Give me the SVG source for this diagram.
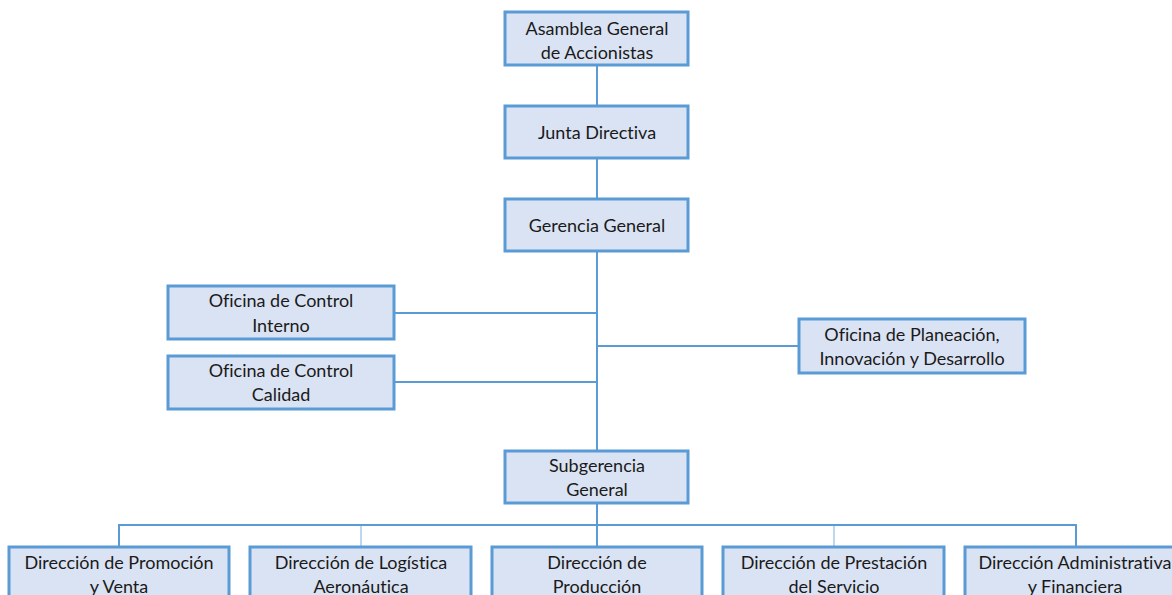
<svg xmlns="http://www.w3.org/2000/svg" width="1172" height="595" viewBox="0 0 1172 595">
<style>
.box{fill:#DAE3F3;stroke:#5B9BD5;stroke-width:3}
.ln{stroke:#5B9BD5;stroke-width:2;fill:none}
.lt{stroke:#BDD7EE;stroke-width:2;fill:none}
text{font-family:Lato,"Open Sans",sans-serif;font-size:18px;fill:#1a1a1a;text-anchor:middle;font-variant-ligatures:none;font-feature-settings:"liga" 0,"dlig" 0}
</style>
<rect width="1172" height="595" fill="#fff"/>
<g id="connectors">
<line class="ln" x1="597" y1="65" x2="597" y2="106"/>
<line class="ln" x1="597" y1="158" x2="597" y2="199"/>
<line class="ln" x1="597" y1="251" x2="597" y2="451"/>
<line class="ln" x1="394" y1="313" x2="597" y2="313"/>
<line class="ln" x1="394" y1="382" x2="597" y2="382"/>
<line class="ln" x1="597" y1="346" x2="799" y2="346"/>
<line class="ln" x1="597" y1="503" x2="597" y2="547"/>
<polyline class="ln" points="119,547 119,525 1076,525 1076,547"/>
<line class="lt" x1="361" y1="526" x2="361" y2="546"/>
<line class="lt" x1="834" y1="526" x2="834" y2="546"/>
</g>
<g id="asamblea"><rect class="box" x="505" y="12" width="183" height="53"/><text x="597" y="35">Asamblea General</text><text x="597" y="59">de Accionistas</text></g>
<g id="junta"><rect class="box" x="505" y="106" width="183" height="52"/><text x="597" y="139">Junta Directiva</text></g>
<g id="gerencia"><rect class="box" x="505" y="199" width="183" height="52"/><text x="597" y="232">Gerencia General</text></g>
<g id="control-interno"><rect class="box" x="168" y="286" width="226" height="53"/><text x="281" y="307">Oficina de Control</text><text x="281" y="332">Interno</text></g>
<g id="control-calidad"><rect class="box" x="168" y="356" width="226" height="53"/><text x="281" y="377">Oficina de Control</text><text x="281" y="401">Calidad</text></g>
<g id="planeacion"><rect class="box" x="799" y="319" width="226" height="54"/><text x="912" y="341">Oficina de Planeación,</text><text x="912" y="365">Innovación y Desarrollo</text></g>
<g id="subgerencia"><rect class="box" x="505" y="451" width="183" height="52"/><text x="597" y="472">Subgerencia</text><text x="597" y="496">General</text></g>
<g id="promocion"><rect class="box" x="9" y="547" width="220" height="60"/><text x="119" y="569">Dirección de Promoción</text><text x="119" y="593">y Venta</text></g>
<g id="logistica"><rect class="box" x="250" y="547" width="221" height="60"/><text x="361" y="569">Dirección de Logística</text><text x="361" y="593">Aeronáutica</text></g>
<g id="produccion"><rect class="box" x="492" y="547" width="210" height="60"/><text x="597" y="569">Dirección de</text><text x="597" y="593">Producción</text></g>
<g id="prestacion"><rect class="box" x="723" y="547" width="221" height="60"/><text x="834" y="569">Dirección de Prestación</text><text x="834" y="593">del Servicio</text></g>
<g id="administrativa"><rect class="box" x="965" y="547" width="222" height="60"/><text x="1075" y="569">Dirección Administrativa</text><text x="1075" y="593">y Financiera</text></g>
</svg>
